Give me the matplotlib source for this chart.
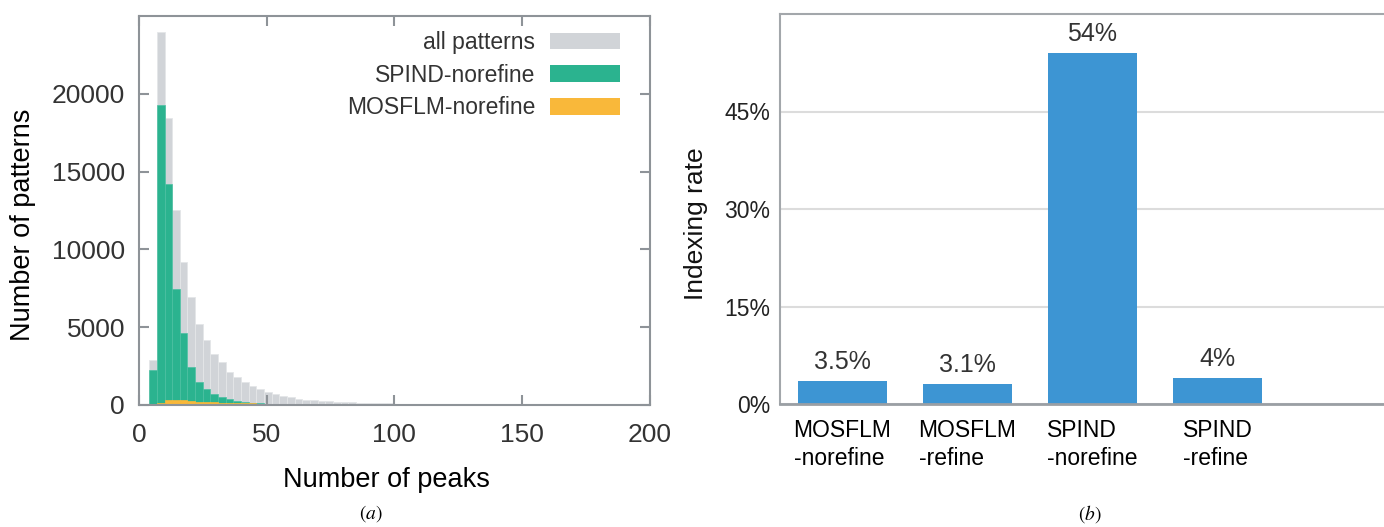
import numpy as np
import matplotlib
matplotlib.use("Agg")
import matplotlib.pyplot as plt
from matplotlib.patches import Patch

plt.rcParams['font.family'] = ['Liberation Sans', 'DejaVu Sans']

# ---------------- data ----------------
bin_width = 3
bin_start = 4
all_patterns = [2880, 24000, 18450, 12520, 9200, 6950, 5190, 4160, 3300, 2770,
                2150, 1800, 1470, 1210, 1000, 840, 710, 590, 485, 400,
                345, 300, 260, 237, 215, 194, 172, 150, 130, 125,
                110, 100, 90, 82, 75, 68, 62, 57, 52, 48,
                44, 40, 37, 34, 31, 28, 26, 24, 22, 20,
                18, 17, 16, 15, 14, 13, 12, 11, 10, 9,
                8, 8, 7, 6, 5]
spind_norefine = [2240, 19250, 14230, 7480, 4640, 2430, 1500, 1000, 715, 525,
                  355, 260, 185, 140, 105, 85, 70, 58, 48, 40,
                  34, 29, 25, 22, 19, 17, 15, 13, 11, 10,
                  9, 8, 7, 7, 6, 6, 5, 5, 5, 4,
                  4, 4, 3, 3, 3, 3, 2, 2, 2, 2,
                  2, 2, 1, 1, 1, 1, 1, 1, 1, 1,
                  1, 1, 1, 1, 1]
mosflm_norefine = [0, 150, 330, 350, 310, 260, 220, 190, 165, 145,
                   130, 118, 108, 100, 93, 87, 82, 78, 74, 70,
                   67, 64, 61, 58, 56, 54, 52, 50, 48, 46,
                   45, 44, 43, 42, 41, 40, 39, 38, 37, 36,
                   35, 34, 33, 32, 31, 30, 29, 28, 27, 26,
                   25, 24, 23, 22, 21, 20, 19, 18, 17, 16,
                   15, 14, 13, 12, 11]
hist_labels = ['all patterns', 'SPIND-norefine', 'MOSFLM-norefine']
x_ticks_a = [0, 50, 100, 150, 200]
y_ticks_a = [0, 5000, 10000, 15000, 20000]

methods = ['MOSFLM\n-norefine', 'MOSFLM\n-refine', 'SPIND\n-norefine', 'SPIND\n-refine']
rates = [3.5, 3.1, 54.0, 4.0]
rate_labels = ['3.5%', '3.1%', '54%', '4%']
y_ticks_b = [0, 15, 30, 45]
y_ticklabels_b = ['0%', '15%', '30%', '45%']

# ---------------- figure ----------------
W, H = 1384, 527
fig = plt.figure(figsize=(W / 100, H / 100), dpi=100)

def px_axes(x0, x1, ytop, ybot):
    return fig.add_axes([x0 / W, (H - ybot) / H, (x1 - x0) / W, (ybot - ytop) / H])

c_gray = '#d1d4d8'
c_green = '#2bb38f'
c_orange = '#f9b83a'
c_blue = '#3d95d3'
spine_c = '#8e9398'

# ---- panel (a)
ax = px_axes(139, 649.5, 16, 405)
edges = bin_start + bin_width * np.arange(len(all_patterns))
ax.bar(edges, all_patterns, width=bin_width, align='edge', color=c_gray,
       edgecolor='#e4e6e8', linewidth=0.6, label=hist_labels[0])
ax.bar(edges, spind_norefine, width=bin_width, align='edge', color=c_green,
       edgecolor='#4cc0a2', linewidth=0.5, label=hist_labels[1])
ax.bar(edges, mosflm_norefine, width=bin_width, align='edge', color=c_orange,
       edgecolor=c_orange, linewidth=0.5, label=hist_labels[2])
ax.set_xlim(0, 200)
ax.set_ylim(0, 25000)
ax.set_xticks(x_ticks_a)
ax.set_yticks(y_ticks_a)
for s in ax.spines.values():
    s.set_color(spine_c)
    s.set_linewidth(1.5)
ax.tick_params(direction='in', length=7, width=1.5, color=spine_c,
               top=True, right=True, labelsize=19, labelcolor='#333333')
ax.tick_params(axis='x', pad=13)
ax.tick_params(axis='y', pad=10)

handles = [Patch(facecolor=c_gray), Patch(facecolor=c_green), Patch(facecolor=c_orange)]
leg = ax.legend(handles, hist_labels, loc='upper right', frameon=False,
                markerfirst=False, fontsize=16.5, handlelength=3.05,
                handleheight=0.74, handletextpad=0.65, labelspacing=0.42,
                borderpad=0, borderaxespad=0,
                bbox_to_anchor=((620 - 139) / 510.5, (405 - 31) / 389))
for t in leg.get_texts():
    t.set_color('#333333')

fig.text(23 / W, (H - 225) / H, 'Number of patterns', rotation=90,
         ha='center', va='center', fontsize=19.5, color='black')
fig.text(386 / W, (H - 480) / H, 'Number of peaks', ha='center', va='center',
         fontsize=19.5, color='black')
fig.text(371 / W, (H - 514) / H, r'$(a)$', ha='center', va='center',
         fontsize=14, math_fontfamily='stix')

# ---- panel (b)
ax2 = px_axes(780, 1384, 14, 404)
x = np.arange(len(methods))
bars = ax2.bar(x, rates, width=0.71, color=c_blue, zorder=3)
ax2.bar_label(bars, labels=rate_labels, padding=5, fontsize=18, color='#333333')
ax2.set_xlim(-0.5, -0.5 + 604 / 125)
ax2.set_ylim(0, 60)
ax2.set_yticks(y_ticks_b)
ax2.set_yticklabels(y_ticklabels_b)
ax2.set_xticks(x)
ax2.set_xticklabels(methods, multialignment='left', linespacing=1.25)
ax2.yaxis.grid(True, color='#dcdcdc', linewidth=1.5, zorder=0)
ax2.set_axisbelow(True)
ax2.tick_params(axis='y', length=0, pad=7, labelsize=16.5, labelcolor='#222222')
ax2.tick_params(axis='x', length=0, pad=11, labelsize=16.5, labelcolor='black')
ax2.spines['right'].set_visible(False)
for k in ['left', 'top']:
    ax2.spines[k].set_color('#a3a7ab')
    ax2.spines[k].set_linewidth(1.5)
ax2.spines['bottom'].set_color('#9a9fa4')
ax2.spines['bottom'].set_linewidth(2)
ax2.spines['bottom'].set_zorder(4)

fig.text(696 / W, (H - 224) / H, 'Indexing rate', rotation=90,
         ha='center', va='center', fontsize=19, color='#111111')
fig.text(1090 / W, (H - 514) / H, r'$(b)$', ha='center', va='center',
         fontsize=14, math_fontfamily='stix')

fig.savefig('out.png', dpi=100)
